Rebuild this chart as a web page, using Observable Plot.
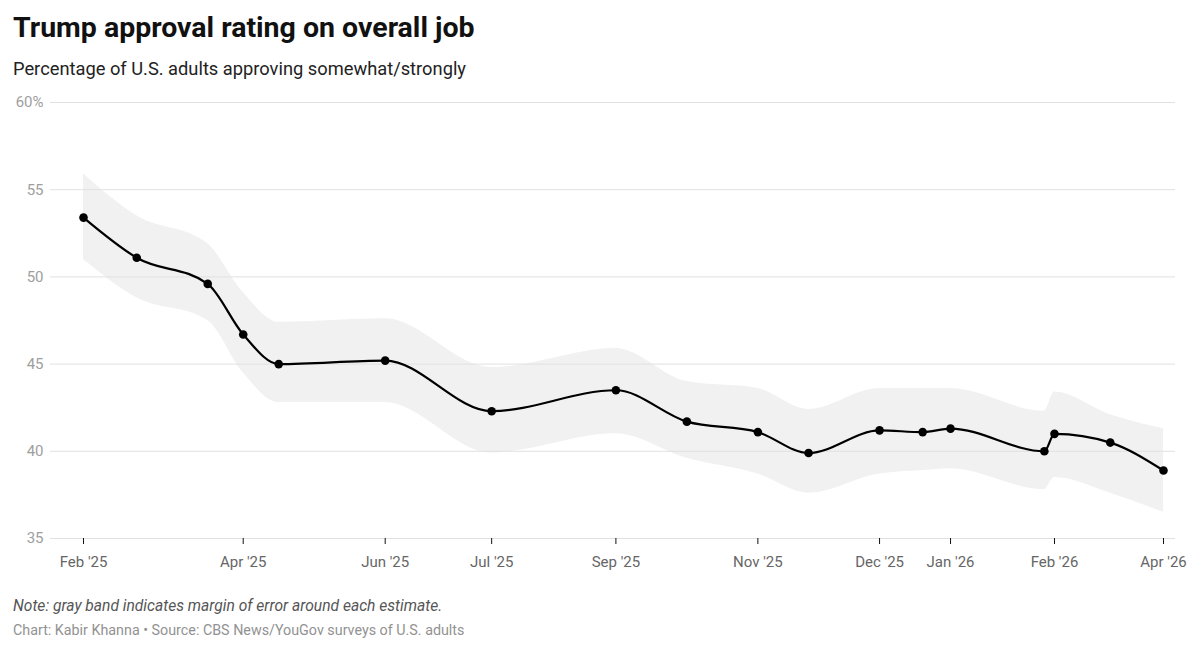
<!DOCTYPE html>
<html>
<head>
<meta charset="utf-8">
<script src="https://cdn.jsdelivr.net/npm/d3@7"></script>
<script src="https://cdn.jsdelivr.net/npm/@observablehq/plot@0.6"></script>
<style>
  html, body { margin: 0; padding: 0; background: #fff; }
  body { width: 1200px; height: 652px; position: relative; font-family: Roboto, "Noto Sans", sans-serif; overflow: hidden; }
  .title { position: absolute; left: 13px; top: 11.3px; margin: 0; font-size: 28.5px; line-height: 34px; font-weight: 700; color: #111; white-space: nowrap; }
  .subtitle { position: absolute; left: 13px; top: 57.7px; margin: 0; font-size: 18.3px; line-height: 22px; color: #222; white-space: nowrap; }
  #chart { position: absolute; left: 0; top: 88px; }
  .note { position: absolute; left: 13px; top: 596.7px; margin: 0; font-size: 15.6px; line-height: 18px; font-style: italic; color: #555; white-space: nowrap; }
  .credit { position: absolute; left: 13px; top: 621px; margin: 0; font-size: 14.3px; line-height: 18px; color: #929292; white-space: nowrap; }
</style>
</head>
<body>
<h1 class="title">Trump approval rating on overall job</h1>
<p class="subtitle">Percentage of U.S. adults approving somewhat/strongly</p>
<div id="chart"></div>
<p class="note">Note: gray band indicates margin of error around each estimate.</p>
<p class="credit">Chart: Kabir Khanna • Source: CBS News/YouGov surveys of U.S. adults</p>
<script>
// Survey field dates (approximate midpoints)
const pollDates = [
  "2025-02-06", "2025-02-27", "2025-03-27", "2025-04-10", "2025-04-24",
  "2025-06-05", "2025-07-17", "2025-09-04", "2025-10-02", "2025-10-30",
  "2025-11-19", "2025-12-17", "2026-01-03", "2026-01-14", "2026-02-20",
  "2026-02-24", "2026-03-18", "2026-04-08"
];
// Share approving somewhat/strongly (%)
const approve = [
  53.4, 51.1, 49.6, 46.7, 45.0,
  45.2, 42.3, 43.5, 41.7, 41.1,
  39.9, 41.2, 41.1, 41.3, 40.0,
  41.0, 40.5, 38.9
];
// Margin-of-error band bounds (%)
const bandLow = [
  51.0, 48.8, 47.5, 44.5, 42.8,
  42.8, 39.9, 41.0, 39.6, 38.7,
  37.6, 38.7, 38.9, 39.0, 37.8,
  38.5, 37.6, 36.5
];
const bandHigh = [
  55.9, 53.5, 51.9, 49.1, 47.4,
  47.6, 44.8, 45.9, 44.0, 43.6,
  42.4, 43.6, 43.6, 43.6, 42.3,
  43.4, 42.1, 41.3
];

// Labelled x-axis ticks
const tickDates = [
  "2025-02-06", "2025-04-10", "2025-06-05", "2025-07-17", "2025-09-04",
  "2025-10-30", "2025-12-17", "2026-01-14", "2026-02-24", "2026-04-08"
];
const tickLabels = [
  "Feb '25", "Apr '25", "Jun '25", "Jul '25", "Sep '25",
  "Nov '25", "Dec '25", "Jan '26", "Feb '26", "Apr '26"
];
const yTicks = [35, 40, 45, 50, 55, 60];

const rows = pollDates.map((d, i) => ({
  date: new Date(d),
  value: approve[i],
  lo: bandLow[i],
  hi: bandHigh[i]
}));
const ticks = tickDates.map(d => new Date(d));
const labelOf = new Map(ticks.map((d, i) => [+d, tickLabels[i]]));

const chart = Plot.plot({
  width: 1200,
  height: 490,
  marginTop: 14,
  marginBottom: 40,
  marginLeft: 50,
  marginRight: 25,
  style: { fontFamily: "Roboto, 'Noto Sans', sans-serif", fontSize: "15px", background: "transparent" },
  x: { type: "utc", domain: [rows[0].date, rows[rows.length - 1].date], insetLeft: 33, insetRight: 12 },
  y: { domain: [35, 60] },
  marks: [
    Plot.areaY(rows, { x: "date", y1: "lo", y2: "hi", curve: "monotone-x", fill: "#f1f1f1" }),
    Plot.gridY(yTicks, { stroke: "#e1e1e1", strokeOpacity: 1, strokeWidth: 1 }),
    Plot.axisY({
      ticks: yTicks, tickSize: 0, tickPadding: 7, fill: "#9e9e9e", label: null,
      tickFormat: d => d === 60 ? "60%" : String(d)
    }),
    Plot.axisX({
      ticks, tickSize: 6, tickPadding: 12, stroke: "#111", fill: "#666", label: null,
      tickFormat: d => labelOf.get(+d)
    }),
    Plot.lineY(rows, { x: "date", y: "value", curve: "monotone-x", stroke: "#000", strokeWidth: 2.2 }),
    Plot.dot(rows, { x: "date", y: "value", r: 4.3, fill: "#000", stroke: "none" })
  ]
});
document.getElementById("chart").appendChild(chart);
</script>
</body>
</html>
